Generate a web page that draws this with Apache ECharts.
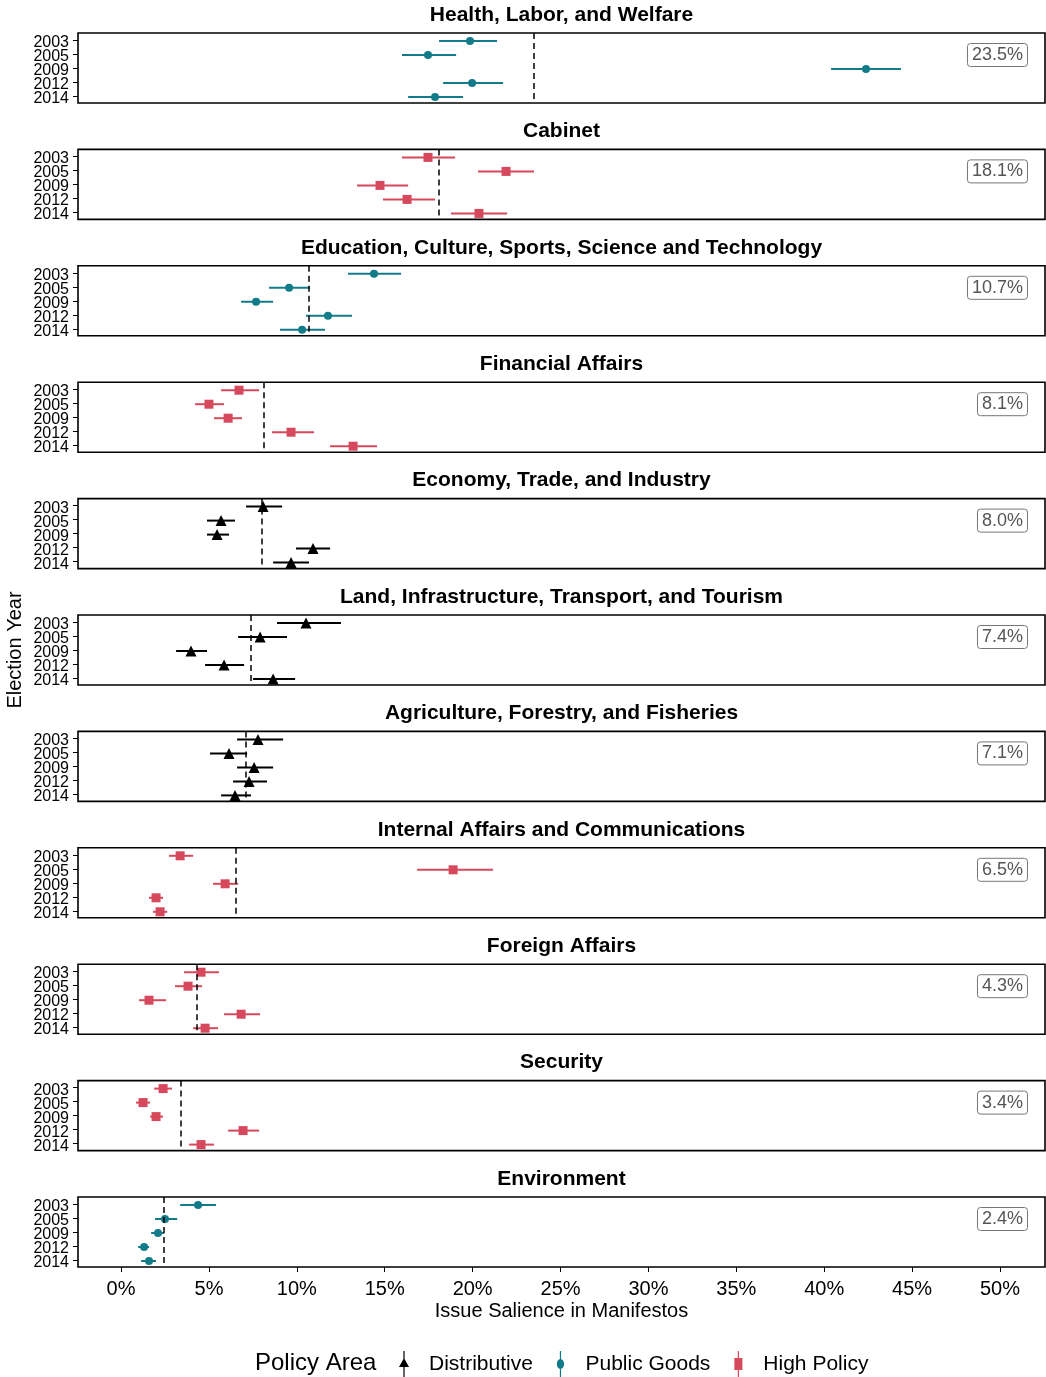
<!DOCTYPE html>
<html>
<head>
<meta charset="utf-8">
<script src="https://cdn.jsdelivr.net/npm/echarts@6/dist/echarts.min.js"></script>
<style>html,body{margin:0;padding:0;background:#fff;}#c{width:1046px;height:1377px;}</style>
</head>
<body>
<div id="c"></div>
<script>
// ---------- DATA ----------
const years = ['2003', '2005', '2009', '2012', '2014'];
const panels = [
  'Health, Labor, and Welfare',
  'Cabinet',
  'Education, Culture, Sports, Science and Technology',
  'Financial Affairs',
  'Economy, Trade, and Industry',
  'Land, Infrastructure, Transport, and Tourism',
  'Agriculture, Forestry, and Fisheries',
  'Internal Affairs and Communications',
  'Foreign Affairs',
  'Security',
  'Environment'
];
const policyArea = ['Public Goods', 'High Policy', 'Public Goods', 'High Policy', 'Distributive',
  'Distributive', 'Distributive', 'High Policy', 'High Policy', 'High Policy', 'Public Goods'];
const panelMeans = [23.5, 18.1, 10.7, 8.1, 8.0, 7.4, 7.1, 6.5, 4.3, 3.4, 2.4];

// point estimates (%) per panel, in year order
const estHealth      = [19.85, 17.46, 42.38, 19.97, 17.86];
const estCabinet     = [17.46, 21.90, 14.73, 16.27, 20.36];
const estEducation   = [14.39, 9.56, 7.68, 11.77, 10.30];
const estFinancial   = [6.71, 5.00, 6.09, 9.67, 13.20];
const estEconomy     = [8.08, 5.69, 5.46, 10.92, 9.67];
const estLand        = [10.52, 7.91, 3.98, 5.86, 8.65];
const estAgriculture = [7.79, 6.14, 7.57, 7.28, 6.48];
const estInternal    = [3.36, 18.89, 5.92, 1.99, 2.22];
const estForeign     = [4.55, 3.81, 1.59, 6.83, 4.78];
const estSecurity    = [2.39, 1.25, 1.99, 6.94, 4.55];
const estEnvironment = [4.38, 2.50, 2.10, 1.31, 1.59];

// lower CI bounds
const loHealth      = [18.09, 15.98, 40.39, 18.32, 16.33];
const loCabinet     = [15.98, 20.31, 13.42, 14.90, 18.77];
const loEducation   = [12.91, 8.42, 6.83, 10.52, 9.04];
const loFinancial   = [5.69, 4.21, 5.29, 8.59, 11.89];
const loEconomy     = [7.11, 4.89, 4.89, 9.95, 8.65];
const loLand        = [8.87, 6.66, 3.13, 4.78, 7.51];
const loAgriculture = [6.60, 5.06, 6.60, 6.37, 5.69];
const loInternal    = [2.73, 16.84, 5.23, 1.59, 1.82];
const loForeign     = [3.58, 3.07, 1.02, 5.86, 4.10];
const loSecurity    = [1.88, 0.85, 1.65, 6.09, 3.87];
const loEnvironment = [3.36, 1.93, 1.71, 0.97, 1.14];

// upper CI bounds
const hiHealth      = [21.39, 19.06, 44.37, 21.73, 19.45];
const hiCabinet     = [19.00, 23.49, 16.33, 17.86, 21.96];
const hiEducation   = [15.93, 10.75, 8.65, 13.14, 11.60];
const hiFinancial   = [7.85, 5.86, 6.88, 10.98, 14.56];
const hiEconomy     = [9.16, 6.48, 6.14, 11.89, 10.69];
const hiLand        = [12.51, 9.44, 4.89, 7.00, 9.90];
const hiAgriculture = [9.22, 7.17, 8.65, 8.30, 7.39];
const hiInternal    = [4.10, 21.16, 6.66, 2.39, 2.62];
const hiForeign     = [5.57, 4.61, 2.56, 7.91, 5.52];
const hiSecurity    = [2.90, 1.65, 2.39, 7.85, 5.29];
const hiEnvironment = [5.40, 3.19, 2.45, 1.59, 1.99];

const xTicks = [0, 5, 10, 15, 20, 25, 30, 35, 40, 45, 50];
const legendNames = ['Distributive', 'Public Goods', 'High Policy'];

// ---------- STYLE / LAYOUT ----------
const est = [estHealth, estCabinet, estEducation, estFinancial, estEconomy, estLand, estAgriculture, estInternal, estForeign, estSecurity, estEnvironment];
const lo = [loHealth, loCabinet, loEducation, loFinancial, loEconomy, loLand, loAgriculture, loInternal, loForeign, loSecurity, loEnvironment];
const hi = [hiHealth, hiCabinet, hiEducation, hiFinancial, hiEconomy, hiLand, hiAgriculture, hiInternal, hiForeign, hiSecurity, hiEnvironment];

const FONT = '"Liberation Sans", Arial, sans-serif';
const colors = { 'Distributive': '#000000', 'Public Goods': '#127b8a', 'High Policy': '#d6485b' };
const symbols = { 'Distributive': 'triangle', 'Public Goods': 'circle', 'High Policy': 'rect' };
const symSizes = { 'Distributive': 11, 'Public Goods': 8, 'High Policy': 9 };

const GRID_LEFT = 78, GRID_W = 967, GRID_H = 70, TOP0 = 33, STEP = 116.4;
const XMIN = -2.45, XMAX = 52.56;

const grids = [], xAxes = [], yAxes = [], series = [], titles = [], graphics = [];
panels.forEach((name, i) => {
  const top = TOP0 + i * STEP;
  const last = i === panels.length - 1;
  grids.push({ left: GRID_LEFT, top: top, width: GRID_W, height: GRID_H, show: true,
    borderColor: '#000', borderWidth: 1.6, backgroundColor: 'transparent' });
  xAxes.push({
    gridIndex: i, type: 'value', min: XMIN, max: XMAX, show: true,
    splitLine: { show: false }, axisLine: { show: false, onZero: false },
    axisTick: { show: last, length: 5, lineStyle: { color: '#000', width: 1 }, customValues: xTicks },
    axisLabel: { show: last, customValues: xTicks, formatter: v => v + '%', fontSize: 20, color: '#000', fontFamily: FONT, margin: 12 },
    name: last ? 'Issue Salience in Manifestos' : '', nameLocation: 'middle', nameGap: 34,
    nameTextStyle: { fontSize: 20, color: '#000', fontFamily: FONT }
  });
  yAxes.push({
    gridIndex: i, type: 'category', data: years, inverse: true, boundaryGap: true,
    axisLine: { show: false, onZero: false }, splitLine: { show: false },
    axisTick: { show: true, alignWithLabel: true, interval: 0, length: 5, lineStyle: { color: '#000', width: 1 } },
    axisLabel: { interval: 0, margin: 9, formatter: v => '{y|' + v + '}',
      rich: { y: { fontSize: 16, color: '#000', fontFamily: FONT, lineHeight: 14, padding: [5, 0, 0, 0] } } }
  });
  const area = policyArea[i];
  const col = colors[area];
  // error bars
  series.push({
    type: 'custom', name: area + ' CI', xAxisIndex: i, yAxisIndex: i, silent: true,
    data: years.map((y, k) => [lo[i][k], hi[i][k], k]),
    encode: { x: [0, 1], y: 2 },
    renderItem: (params, api) => {
      const p1 = api.coord([api.value(0), api.value(2)]);
      const p2 = api.coord([api.value(1), api.value(2)]);
      return { type: 'line', shape: { x1: p1[0], y1: p1[1] + 1, x2: p2[0], y2: p2[1] + 1 },
        style: { stroke: col, lineWidth: 2 } };
    },
    z: 2
  });
  // points + mean line
  series.push({
    type: 'scatter', name: area, xAxisIndex: i, yAxisIndex: i,
    data: years.map((y, k) => [est[i][k], k]),
    symbol: symbols[area], symbolSize: symSizes[area], symbolOffset: [0, 1],
    itemStyle: { color: col, opacity: 1 },
    z: 3,
    markLine: {
      silent: true, symbol: 'none', label: { show: false },
      lineStyle: { color: '#000', type: [6, 4], width: 1.5 },
      data: [{ xAxis: panelMeans[i] }]
    }
  });
  graphics.push({ type: 'text', x: GRID_LEFT + GRID_W / 2, y: top - 18,
    style: { text: name, fontSize: 21, fontWeight: 'bold', fill: '#000', fontFamily: FONT, align: 'center', verticalAlign: 'middle' } });
  titles.push({ text: panelMeans[i].toFixed(1) + '%', right: 18, top: top + 10,
    borderColor: '#777', borderWidth: 1, borderRadius: 3, padding: [3, 5, 3, 5],
    textStyle: { fontSize: 18, fontWeight: 'normal', color: '#555', fontFamily: FONT } });
});

const icons = {
  'Distributive': 'path://M5.4,0h1.2v8h-1.2z M5.4,16h1.2v10h-1.2z M1,16 L6,7 L11,16z',
  'Public Goods': 'path://M5.4,0h1.2v8.5h-1.2z M5.4,17.5h1.2v8.5h-1.2z M6,8 C8.2,8 9.6,10.2 9.6,13 C9.6,15.8 8.2,18 6,18 C3.8,18 2.4,15.8 2.4,13 C2.4,10.2 3.8,8 6,8z',
  'High Policy': 'path://M5.4,0h1.2v7h-1.2z M5.4,19h1.2v7h-1.2z M2,7h8v12h-8z'
};

graphics.push({ type: 'text', x: 255, y: 1363, style: { text: 'Policy Area', fontSize: 24, fill: '#000', fontFamily: FONT, verticalAlign: 'middle' } });
graphics.push({ type: 'text', x: 15, y: 650, rotation: Math.PI / 2,
  style: { text: 'Election Year', fontSize: 20, fill: '#000', fontFamily: FONT, align: 'center', verticalAlign: 'middle' } });

const option = {
  animation: false,
  backgroundColor: '#fff',
  title: titles,
  grid: grids,
  xAxis: xAxes,
  yAxis: yAxes,
  series: series,
  legend: {
    left: 394, top: 1346, itemWidth: 12, itemHeight: 26, itemGap: 24,
    data: legendNames.map(n => ({ name: n, icon: icons[n], itemStyle: { color: colors[n] } })),
    textStyle: { fontSize: 21, color: '#000', fontFamily: FONT, padding: [0, 0, 0, 14] },
    selectedMode: false
  },
  graphic: graphics
};

const chart = echarts.init(document.getElementById('c'), null, { renderer: 'canvas' });
chart.setOption(option);
</script>
</body>
</html>
